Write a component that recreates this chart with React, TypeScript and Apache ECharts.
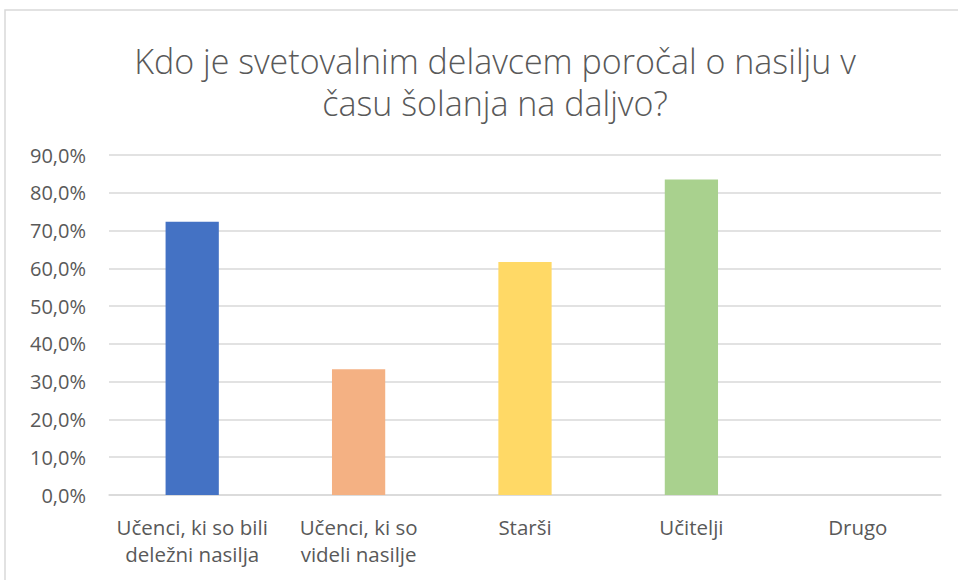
import React, { useEffect, useRef } from "react";
import * as echarts from "echarts";

const categories = [
  "Učenci, ki so bili\ndeležni nasilja",
  "Učenci, ki so\nvideli nasilje",
  "Starši",
  "Učitelji",
  "Drugo",
];
const values = [72.3, 33.3, 61.7, 83.5, 0];
const barColors = ["#4472C4", "#F4B183", "#FFD966", "#A9D18E", "#A5A5A5"];
const titleText = "Kdo je svetovalnim delavcem poročal o nasilju v\nčasu šolanja na daljvo?";

export default function App() {
  const ref = useRef<HTMLDivElement>(null);
  useEffect(() => {
    if (!ref.current) return;
    const chart = echarts.init(ref.current, undefined, { renderer: "svg" });
    const font = "'Open Sans', 'Noto Sans', sans-serif";
    chart.setOption({
      animation: false,
      backgroundColor: "#ffffff",
      title: {
        text: titleText,
        left: 490,
        top: 35,
        textAlign: "center",
        textStyle: {
          fontFamily: font,
          fontWeight: 300,
          fontSize: 34,
          lineHeight: 42,
          color: "#595959",
        },
      },
      graphic: [
        {
          type: "rect",
          shape: { x: 5, y: 10, width: 970, height: 600 },
          style: { fill: "none", stroke: "#d9d9d9", lineWidth: 1.5 },
          silent: true,
          z: -1,
        },
      ],
      grid: { left: 109, right: 17, top: 155, bottom: 85, containLabel: false },
      xAxis: {
        type: "category",
        data: categories,
        axisLine: { lineStyle: { color: "#d9d9d9", width: 1.5 } },
        axisTick: { show: false },
        axisLabel: {
          interval: 0,
          color: "#595959",
          fontFamily: font,
          fontSize: 20.5,
          lineHeight: 27,
          margin: 18,
        },
      },
      yAxis: {
        type: "value",
        min: 0,
        max: 90,
        interval: 10,
        axisLine: { show: false },
        axisTick: { show: false },
        splitLine: { lineStyle: { color: "#d9d9d9", width: 1.5 } },
        axisLabel: {
          color: "#595959",
          fontFamily: font,
          fontSize: 20,
          margin: 23,
          formatter: (v: number) => v.toFixed(1).replace(".", ",") + "%",
        },
      },
      series: [
        {
          type: "bar",
          data: values.map((v, i) => ({ value: v, itemStyle: { color: barColors[i] } })),
          barWidth: "32%",
        },
      ],
    });
    return () => chart.dispose();
  }, []);
  return (
    <div
      ref={ref}
      style={{ position: "fixed", left: 0, top: 0, width: 958, height: 580 }}
    />
  );
}
